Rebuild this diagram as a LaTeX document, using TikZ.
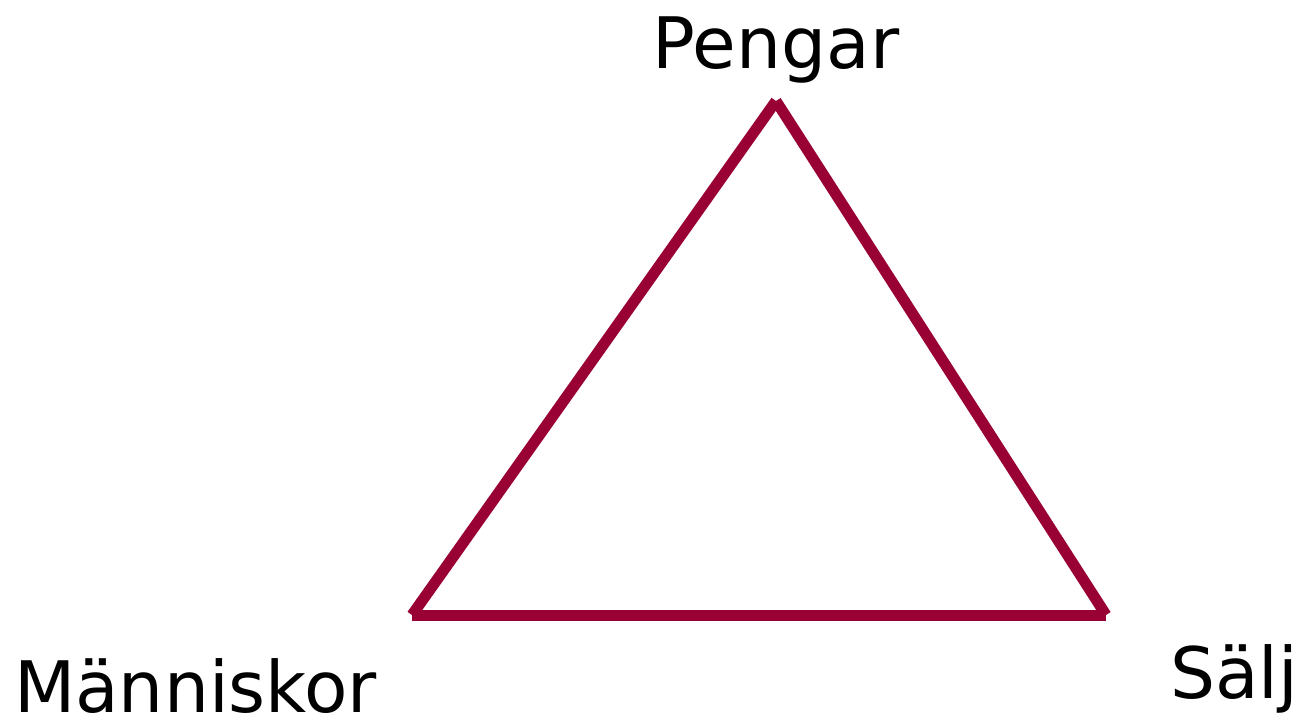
\documentclass[tikz,border=0pt]{standalone}
\usepackage{fontspec}
\setmainfont{DejaVu Sans}
\definecolor{tri}{HTML}{990033}
\begin{document}
\begin{tikzpicture}[x=1pt,y=-1pt,
  side/.style={draw=tri,line width=11pt,line cap=butt},
  lbl/.style={inner sep=0pt,font=\fontsize{71}{84}\selectfont}]
\useasboundingbox (0,0) rectangle (1311,720);
\coordinate (top) at (776,101);
\coordinate (bl) at (412,615);
\coordinate (br) at (1106,615);
\draw[side] (bl) -- (top);
\draw[side] (top) -- (br);
\draw[side] (bl) -- (br);
\node[lbl,anchor=base] (pengar) at (776,68) {Pengar};
\node[lbl,anchor=base west] (manniskor) at (14,712) {Människor};
\node[lbl,anchor=base west] (salj) at (1170,698) {Sälj};
\end{tikzpicture}
\end{document}
